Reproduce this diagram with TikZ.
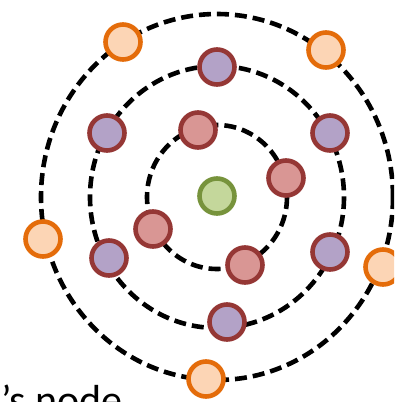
\documentclass[tikz,border=0pt]{standalone}
\usepackage{fontspec}
\setmainfont{Carlito}
\usepackage{tikz}
\usetikzlibrary{positioning}
\definecolor{rootfill}{RGB}{196,215,155}
\definecolor{rootline}{RGB}{119,147,60}
\definecolor{hopfill}{RGB}{217,150,148}
\definecolor{hopline}{RGB}{149,55,53}
\definecolor{twofill}{RGB}{179,162,199}
\definecolor{threefill}{RGB}{252,213,181}
\definecolor{threeline}{RGB}{228,108,10}
\tikzset{
  ring/.style={draw=black, line width=4.6pt, dash pattern=on 12pt off 6pt},
  vtx/.style={circle, minimum size=35pt, inner sep=0pt, line width=4.6pt},
  root/.style={vtx, draw=rootline, fill=rootfill},
  hopone/.style={vtx, draw=hopline, fill=hopfill},
  hoptwo/.style={vtx, draw=hopline, fill=twofill},
  hopthree/.style={vtx, draw=threeline, fill=threefill}
}

\begin{document}
\begin{tikzpicture}[x=1pt, y=-1pt]
      \useasboundingbox (0,0) rectangle (394,402);
      \clip (0,0) rectangle (394,402);
      % rings
      \coordinate (c) at (217,197);
      \draw[ring] (c) ellipse (70 and 72);
      \draw[ring] (c) ellipse (127 and 131);
      \draw[ring] (c) ellipse (176 and 183);
      % centre node
      \node[root] (v) at (217,196) {};
      % one hop
      \foreach \px/\py [count = \i] in {198/130, 286/178, 153/229, 245/265}{
        \node[hopone] (a\i) at (\px,\py) {};
        }
      % two hops
      \foreach \px/\py [count = \i] in {217/67, 107/133, 330/133, 109/258, 330/252, 227/322}{
        \node[hoptwo] (b\i) at (\px,\py) {};
        }
      % three hops
      \foreach \px/\py [count = \i] in {123/42, 326/50, 43/239, 383/267, 206/379}{
        \node[hopthree] (d\i) at (\px,\py) {};
        }
      \node[anchor=base east, inner sep=0pt, font=\fontsize{42}{48}\selectfont] (cap) at (123,414) {’s node};
    \end{tikzpicture}
\end{document}
